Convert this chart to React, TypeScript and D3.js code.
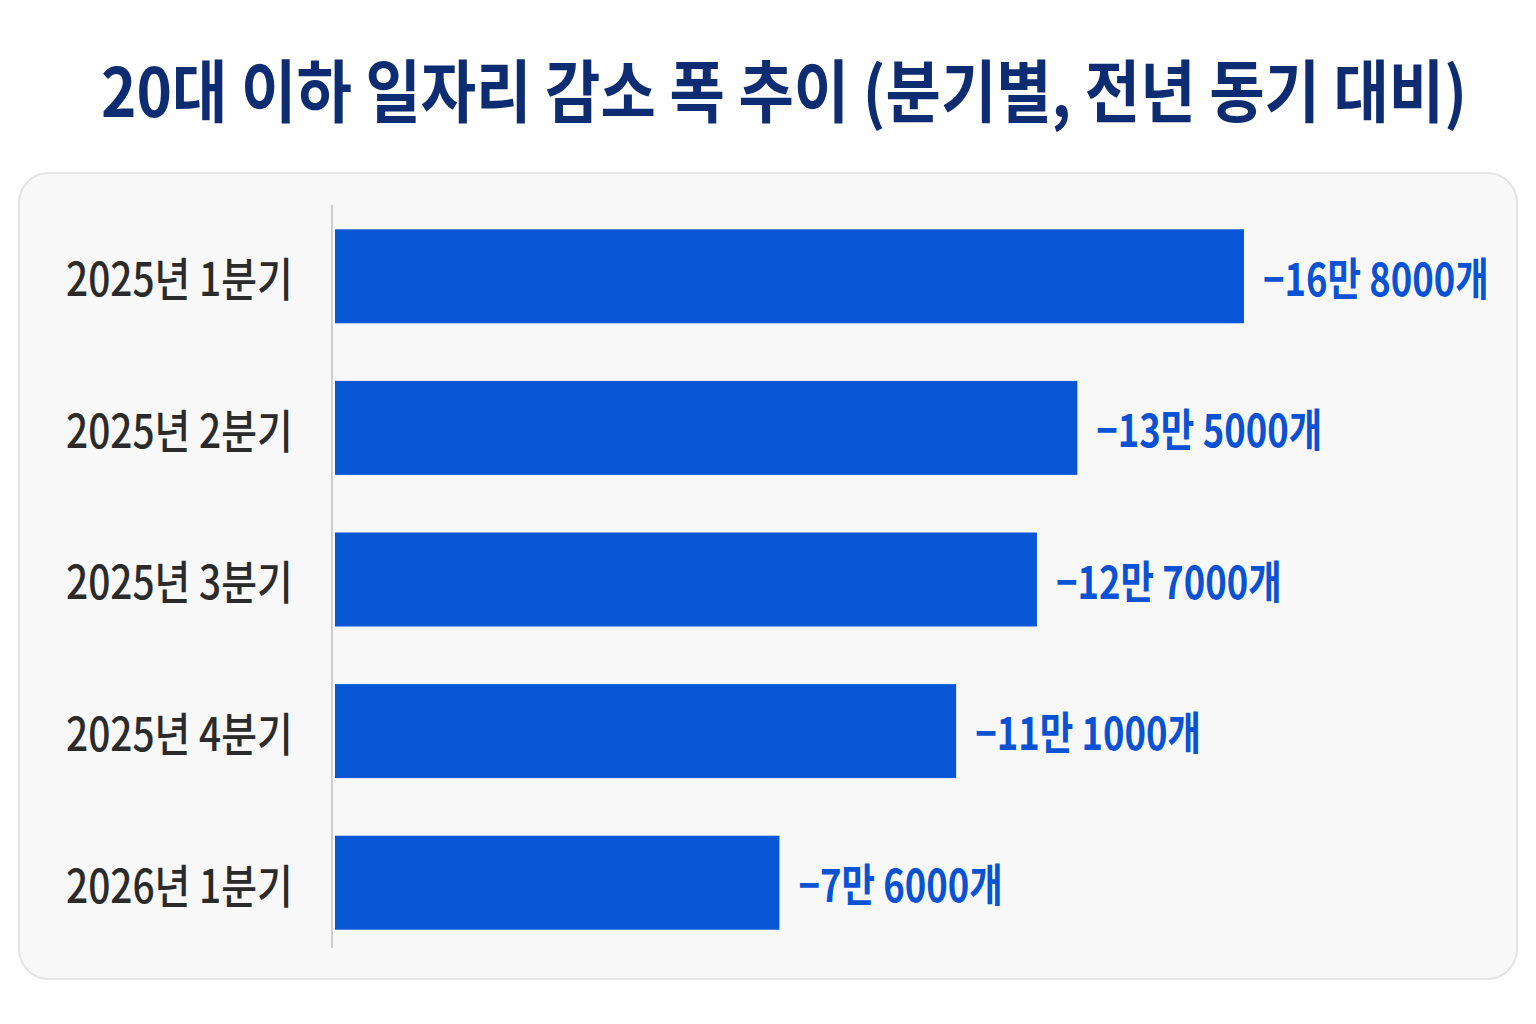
import React, { useEffect, useRef } from 'react';
import * as d3 from 'd3';

const quarters = ['2025년 1분기', '2025년 2분기', '2025년 3분기', '2025년 4분기', '2026년 1분기'];
const decreases = [168000, 135000, 127000, 111000, 76000];
const valueLabels = ['−16만 8000개', '−13만 5000개', '−12만 7000개', '−11만 1000개', '−7만 6000개'];
const title = '20대 이하 일자리 감소 폭 추이 (분기별, 전년 동기 대비)';

const App: React.FC = () => {
  const ref = useRef<SVGSVGElement>(null);

  useEffect(() => {
    drawChart();
  }, []);

  const drawChart = () => {
    const width = 1536;
    const height = 1024;
    const font = '"Noto Sans CJK KR", "Noto Sans", sans-serif';

    d3.select(ref.current).selectAll('*').remove();
    const svg = d3.select(ref.current)
      .attr('width', width)
      .attr('height', height);

    svg.append('rect')
      .attr('width', width)
      .attr('height', height)
      .attr('fill', '#ffffff');

    // title (the original lettering is a bit condensed, hence the scaleX)
    svg.append('text')
      .attr('transform', `translate(784, 87) scale(0.885, 1)`)
      .attr('text-anchor', 'middle')
      .attr('dominant-baseline', 'central')
      .style('font-family', font)
      .style('font-size', '68px')
      .style('font-weight', 700)
      .attr('fill', '#0d2c72')
      .text(title);

    // panel
    svg.append('rect')
      .attr('x', 19)
      .attr('y', 173)
      .attr('width', 1498)
      .attr('height', 806)
      .attr('rx', 30)
      .attr('fill', '#f8f8f8')
      .attr('stroke', '#e4e4e4')
      .attr('stroke-width', 2);

    const x = d3.scaleLinear().domain([-12000, 168000]).range([335, 1244]);
    const y = d3.scaleBand<string>()
      .domain(quarters)
      .range([202, 957])
      .paddingInner(0.38)
      .paddingOuter(0.18);

    // axis line
    svg.append('line')
      .attr('x1', 332).attr('x2', 332)
      .attr('y1', 205).attr('y2', 948)
      .attr('stroke', '#cfcfcf')
      .attr('stroke-width', 2);

    // bars
    svg.selectAll('.bar')
      .data(decreases)
      .enter().append('rect')
      .attr('class', 'bar')
      .attr('x', 335)
      .attr('y', (d, i) => y(quarters[i]) as number)
      .attr('width', d => x(d) - 335)
      .attr('height', y.bandwidth())
      .attr('fill', '#0656d6');

    // category labels
    svg.selectAll('.cat')
      .data(quarters)
      .enter().append('text')
      .attr('class', 'cat')
      .attr('transform', d => `translate(66, ${(y(d) as number) + y.bandwidth() / 2}) scale(0.845, 1)`)
      .attr('dominant-baseline', 'central')
      .style('font-family', font)
      .style('font-size', '46px')
      .style('font-weight', 500)
      .attr('fill', '#2b2b2b')
      .text(d => d);

    // value labels
    svg.selectAll('.val')
      .data(decreases)
      .enter().append('text')
      .attr('class', 'val')
      .attr('transform', (d, i) => `translate(${x(d) + 19}, ${(y(quarters[i]) as number) + y.bandwidth() / 2}) scale(0.81, 1)`)
      .attr('dominant-baseline', 'central')
      .style('font-family', font)
      .style('font-size', '45px')
      .style('font-weight', 600)
      .attr('fill', '#0a52d4')
      .text((d, i) => valueLabels[i]);
  };

  return (
    <div style={{ position: 'absolute', left: 0, top: 0 }}>
      <svg ref={ref}></svg>
    </div>
  );
};

export default App;
